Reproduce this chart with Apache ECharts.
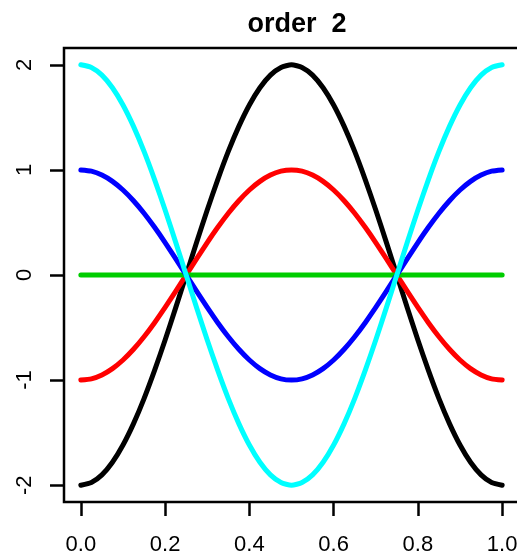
<!DOCTYPE html>
<html>
<head>
<meta charset="utf-8">
<script src="https://cdn.jsdelivr.net/npm/echarts@6/dist/echarts.min.js"></script>
<style>
  html, body { margin: 0; padding: 0; background: #fff; }
  #chart { width: 517px; height: 560px; }
</style>
</head>
<body>
<div id="chart"></div>
<script>
// Sample positions along x
const xs = [0, 0.025, 0.05, 0.075, 0.1, 0.125, 0.15, 0.175, 0.2, 0.225, 0.25,
  0.275, 0.3, 0.325, 0.35, 0.375, 0.4, 0.425, 0.45, 0.475, 0.5,
  0.525, 0.55, 0.575, 0.6, 0.625, 0.65, 0.675, 0.7, 0.725, 0.75,
  0.775, 0.8, 0.825, 0.85, 0.875, 0.9, 0.925, 0.95, 0.975, 1];

// Curve values
const blackVals = [-2, -1.975, -1.902, -1.782, -1.618, -1.414, -1.176, -0.908, -0.618, -0.313, 0,
  0.313, 0.618, 0.908, 1.176, 1.414, 1.618, 1.782, 1.902, 1.975, 2,
  1.975, 1.902, 1.782, 1.618, 1.414, 1.176, 0.908, 0.618, 0.313, 0,
  -0.313, -0.618, -0.908, -1.176, -1.414, -1.618, -1.782, -1.902, -1.975, -2];
const redVals = [-1, -0.988, -0.951, -0.891, -0.809, -0.707, -0.588, -0.454, -0.309, -0.156, 0,
  0.156, 0.309, 0.454, 0.588, 0.707, 0.809, 0.891, 0.951, 0.988, 1,
  0.988, 0.951, 0.891, 0.809, 0.707, 0.588, 0.454, 0.309, 0.156, 0,
  -0.156, -0.309, -0.454, -0.588, -0.707, -0.809, -0.891, -0.951, -0.988, -1];
const greenVals = [0, 0, 0, 0, 0, 0, 0, 0, 0, 0, 0,
  0, 0, 0, 0, 0, 0, 0, 0, 0, 0,
  0, 0, 0, 0, 0, 0, 0, 0, 0, 0,
  0, 0, 0, 0, 0, 0, 0, 0, 0, 0];
const blueVals = [1, 0.988, 0.951, 0.891, 0.809, 0.707, 0.588, 0.454, 0.309, 0.156, 0,
  -0.156, -0.309, -0.454, -0.588, -0.707, -0.809, -0.891, -0.951, -0.988, -1,
  -0.988, -0.951, -0.891, -0.809, -0.707, -0.588, -0.454, -0.309, -0.156, 0,
  0.156, 0.309, 0.454, 0.588, 0.707, 0.809, 0.891, 0.951, 0.988, 1];
const cyanVals = [2, 1.975, 1.902, 1.782, 1.618, 1.414, 1.176, 0.908, 0.618, 0.313, 0,
  -0.313, -0.618, -0.908, -1.176, -1.414, -1.618, -1.782, -1.902, -1.975, -2,
  -1.975, -1.902, -1.782, -1.618, -1.414, -1.176, -0.908, -0.618, -0.313, 0,
  0.313, 0.618, 0.908, 1.176, 1.414, 1.618, 1.782, 1.902, 1.975, 2];

// Tick labels
const xTicks = [0, 0.2, 0.4, 0.6, 0.8, 1.0];
const yTicks = [-2, -1, 0, 1, 2];

const FONT = '"Liberation Sans", Arial, sans-serif';

function pairs(vals) {
  return xs.map((x, i) => [x, vals[i]]);
}

function lineSeries(vals, color) {
  return {
    type: 'line',
    data: pairs(vals),
    showSymbol: false,
    symbol: 'none',
    smooth: 0.2,
    lineStyle: { color: color, width: 5, cap: 'round', join: 'round' },
    emphasis: { disabled: true },
    silent: true
  };
}

const chart = echarts.init(document.getElementById('chart'), null, { renderer: 'canvas' });
chart.setOption({
  animation: false,
  backgroundColor: '#fff',
  title: {
    text: 'order  2',
    left: 292,
    textAlign: 'center',
    top: 6,
    textStyle: { fontFamily: FONT, fontWeight: 'bold', fontSize: 27, color: '#000' }
  },
  grid: {
    left: 64, top: 48, width: 455, height: 454,
    outerBoundsMode: 'none',
    containLabel: false,
    show: true, borderColor: '#000', borderWidth: 2.5, backgroundColor: 'transparent'
  },
  xAxis: {
    type: 'value', min: -0.04, max: 1.04,
    axisLine: { show: false, onZero: false },
    splitLine: { show: false },
    axisTick: {
      show: true, inside: false, length: 14, customValues: xTicks,
      lineStyle: { color: '#000', width: 2.5 }
    },
    axisLabel: {
      customValues: xTicks, margin: 32,
      fontFamily: FONT, fontSize: 22, color: '#000',
      formatter: v => v.toFixed(1)
    }
  },
  yAxis: {
    type: 'value', min: -2.16, max: 2.16,
    axisLine: { show: false, onZero: false },
    splitLine: { show: false },
    axisTick: {
      show: true, inside: false, length: 14, customValues: yTicks,
      lineStyle: { color: '#000', width: 2.5 }
    },
    axisLabel: {
      customValues: yTicks, margin: 28, rotate: 90,
      fontFamily: FONT, fontSize: 22, color: '#000',
      formatter: v => String(v)
    }
  },
  series: [
    lineSeries(blackVals, '#000000'),
    lineSeries(redVals, '#FF0000'),
    lineSeries(greenVals, '#00CD00'),
    lineSeries(blueVals, '#0000FF'),
    lineSeries(cyanVals, '#00FFFF')
  ]
});
</script>
</body>
</html>
